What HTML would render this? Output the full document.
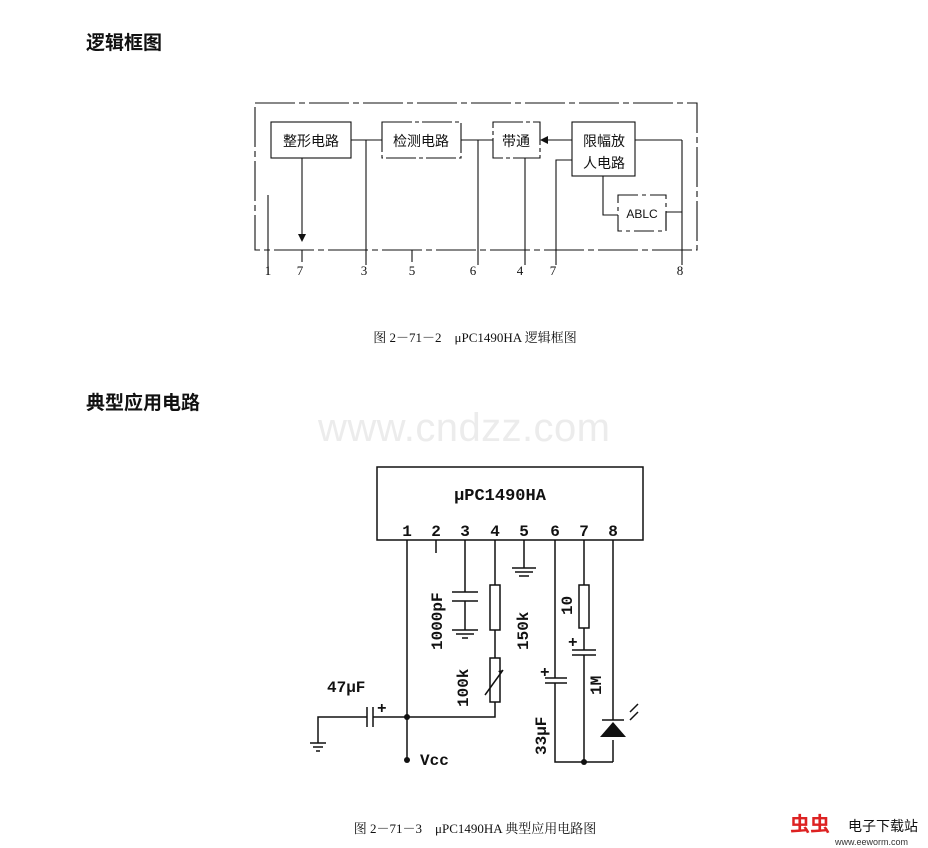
<!DOCTYPE html><html><head><meta charset="utf-8"><style>
body{margin:0;background:#fff;width:928px;height:848px;overflow:hidden;position:relative;font-family:"Liberation Serif","Noto Serif CJK SC",serif}
.h{position:absolute;font:bold 19px "Liberation Sans","Noto Sans CJK SC",sans-serif;color:#111}
</style></head><body>
<div class="h" style="left:86px;top:28px">逻辑框图</div>
<div class="h" style="left:86px;top:388px">典型应用电路</div>
<svg width="928" height="848" style="position:absolute;left:0;top:0" font-family="Liberation Serif,Noto Serif CJK SC,serif">
<g stroke="#111" stroke-width="1.1" fill="none">
<rect x="255" y="103" width="442" height="147" stroke-dasharray="40 4 6 4"/>
<rect x="271" y="122" width="80" height="36"/>
<rect x="382" y="122" width="79" height="36" stroke-dasharray="30 3 4 3"/>
<rect x="493" y="122" width="47" height="36" stroke-dasharray="30 3 4 3"/>
<rect x="572" y="122" width="63" height="54"/>
<rect x="618" y="195" width="48" height="36" stroke-dasharray="20 4 4 4"/>
<path d="M268 195V275M302 158V238M302 250V262M351 140H382M366 140V265M412 250V262M461 140H493M478 140V265M525 158V265M556 265V160H572M572 140H545M635 140H682M682 140V265M603 176V215H618M666 212H682M666 212V230"/>
</g>
<path d="M298 234L302 242L306 234Z" fill="#111"/>
<path d="M548 136L540 140L548 144Z" fill="#111"/>
<g fill="#111" font-size="14" text-anchor="middle" font-family="Liberation Sans,Noto Sans CJK SC,sans-serif">
<text x="311" y="146">整形电路</text><text x="421" y="146">检测电路</text><text x="516" y="146">带通</text>
<text x="604" y="146">限幅放</text><text x="604" y="168">人电路</text>
<text x="642" y="218" font-size="12" font-family="Liberation Sans">ABLC</text>
</g>
<g fill="#111" font-size="13" text-anchor="middle">
<text x="268" y="275">1</text><text x="300" y="275">7</text><text x="364" y="275">3</text><text x="412" y="275">5</text><text x="473" y="275">6</text><text x="520" y="275">4</text><text x="553" y="275">7</text><text x="680" y="275">8</text>
<text x="475" y="342" font-size="13">图 2－71－2　μPC1490HA 逻辑框图</text>
<text x="475" y="833" font-size="13">图 2－71－3　μPC1490HA 典型应用电路图</text>
</g>
<text x="464" y="441" fill="#ececec" font-size="40" text-anchor="middle" textLength="292" font-family="Liberation Sans,sans-serif">www.cndzz.com</text>
<g stroke="#111" stroke-width="1.5" fill="none">
<rect x="377" y="467" width="266" height="73"/>
<path d="M407 540V760M436 540V553M465 540V592M465 601V630M495 540V585M495 630V658M495 702V717H373M367 717H318V743M524 540V568M555 540V678M555 683V762H613M584 540V585M584 628V650M584 655V762M613 540V720M613 740V762"/>
<path d="M452 592H478M452 601H478M452 630H478M456 634H474M462 638H468M310 743H326M313 747H323M316 751H320M512 568H536M515 572H533M519 576H529M367 707V727M373 707V727M545 678H567M545 683H567M572 650H596M572 655H596"/>
<rect x="490" y="585" width="10" height="45"/><rect x="579" y="585" width="10" height="43"/>
<rect x="490" y="658" width="10" height="44"/><path d="M485 695L503 670"/>
<path d="M602 720H624M630 712L638 704M630 720L638 712"/>
</g>
<path d="M600 737L613 722L626 737Z" fill="#111"/>
<path d="M503 670l-5 1 3 3z" fill="#111"/>
<g fill="#111"><circle cx="407" cy="717" r="3"/><circle cx="407" cy="760" r="3"/><circle cx="584" cy="762" r="3"/></g>
<g fill="#111" font-family="Liberation Mono,monospace" font-weight="bold" font-size="16">
<text x="500" y="500" text-anchor="middle" font-size="17">μPC1490HA</text>
<g text-anchor="middle"><text x="407" y="536">1</text><text x="436" y="536">2</text><text x="465" y="536">3</text><text x="495" y="536">4</text><text x="524" y="536">5</text><text x="555" y="536">6</text><text x="584" y="536">7</text><text x="613" y="536">8</text></g>
<text x="327" y="692">47μF</text><text x="377" y="713">+</text>
<text x="420" y="765">Vcc</text>
<text transform="translate(442,650) rotate(-90)">1000pF</text>
<text transform="translate(468,707) rotate(-90)">100k</text>
<text transform="translate(528,650) rotate(-90)">150k</text>
<text transform="translate(572,615) rotate(-90)">10</text>
<text transform="translate(601,695) rotate(-90)">1M</text>
<text transform="translate(546,755) rotate(-90)">33μF</text>
<text x="540" y="677">+</text><text x="568" y="647">+</text>
</g>
<text x="848" y="831" fill="#111" font-size="14" font-family="Noto Sans CJK SC,sans-serif">电子下载站</text>
<text x="790" y="831" fill="#d22" font-size="20" font-weight="bold" font-family="Noto Sans CJK SC,sans-serif">虫虫</text>
<text x="835" y="845" fill="#333" font-size="9" font-family="Liberation Sans,sans-serif">www.eeworm.com</text>
</svg>
</body></html>
